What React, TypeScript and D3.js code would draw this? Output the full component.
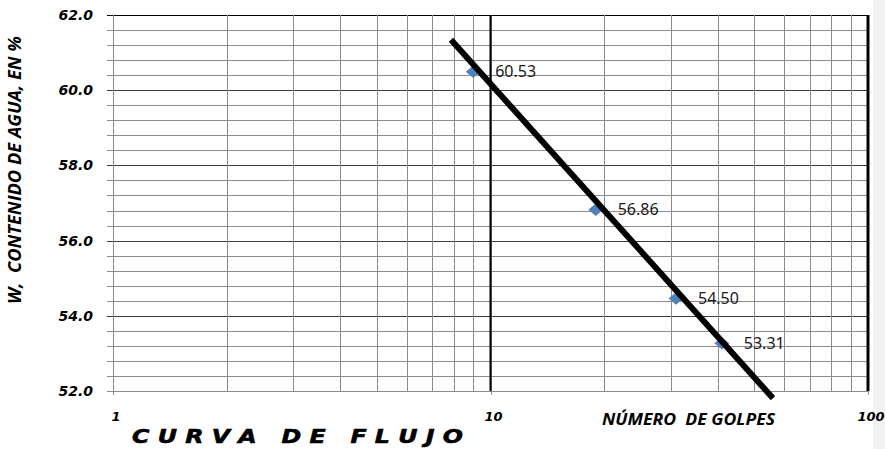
import { useEffect, useRef } from "react";
import * as d3 from "d3";

// blows (golpes) vs water content
const blows = [9, 19, 31, 41];
const moisture = [60.53, 56.86, 54.5, 53.31];
const yTickValues = [62, 60, 58, 56, 54, 52];
const xTickValues = [1, 10, 100];
// flow curve drawn by hand across the points: [golpes, w%] at each end
const flowLineBlows = [7.86, 56.0];
const flowLineMoisture = [61.34, 51.81];

const W = 885;
const H = 449;

export default function App() {
    const svgRef = useRef<SVGSVGElement>(null);

    useEffect(() => {
        if (!svgRef.current) return;
        const svg = d3.select(svgRef.current);
        svg.selectAll("*").remove();

        const margin = { top: 15, right: 17, bottom: 58, left: 113 };
        const x = d3.scaleLog().domain([1, 100]).range([margin.left, W - margin.right]);
        const y = d3.scaleLinear().domain([52, 62]).range([H - margin.bottom, margin.top]);
        const px = (v: number) => Math.round(x(v)) + 0.5;
        const py = (v: number) => Math.round(y(v)) + 0.5;

        svg.append("rect").attr("width", W).attr("height", H).attr("fill", "#fff");
        svg.append("rect").attr("x", 873).attr("width", W - 873).attr("height", H).attr("fill", "#f2f2f2");

        const grid = svg.append("g");
        const minor = d3.range(52, 62.001, 0.4);

        // horizontal grid + left ticks
        grid.selectAll("line.h")
            .data(minor)
            .enter()
            .append("line")
            .attr("x1", x(1) - 6)
            .attr("x2", x(100))
            .attr("y1", (d) => py(d))
            .attr("y2", (d) => py(d))
            .attr("stroke", (d) => {
                const r = Math.round(d * 10) / 10;
                if (r === 62) return "#000";
                if (r === 52) return "#8c8c8c";
                return Math.abs(r % 2) < 0.01 ? "#3a3a3a" : "#8c8c8c";
            })
            .attr("stroke-width", 1);

        // vertical grid
        grid.selectAll("line.v")
            .data(x.ticks())
            .enter()
            .append("line")
            .attr("x1", (d) => px(d))
            .attr("x2", (d) => px(d))
            .attr("y1", y(62))
            .attr("y2", (d) => (xTickValues.includes(d) ? y(52) + 4 : y(52)))
            .attr("stroke", "#8c8c8c")
            .attr("stroke-width", 1);

        grid.append("line")
            .attr("x1", x(10)).attr("x2", x(10))
            .attr("y1", y(62)).attr("y2", y(52))
            .attr("stroke", "#000").attr("stroke-width", 2);
        grid.append("line")
            .attr("x1", x(100)).attr("x2", x(100))
            .attr("y1", y(62)).attr("y2", y(52))
            .attr("stroke", "#000").attr("stroke-width", 3);

        // y tick labels
        svg.append("g")
            .selectAll("text")
            .data(yTickValues)
            .enter()
            .append("text")
            .attr("x", 93)
            .attr("y", (d) => y(d) + 5)
            .attr("text-anchor", "end")
            .attr("font-family", "DejaVu Sans")
            .attr("font-weight", "bold")
            .attr("font-style", "italic")
            .attr("font-size", 14)
            .text((d) => d.toFixed(1));

        // x tick labels
        svg.append("g")
            .selectAll("text")
            .data(xTickValues)
            .enter()
            .append("text")
            .attr("x", (d) => x(d) + 3)
            .attr("y", 421)
            .attr("text-anchor", "middle")
            .attr("font-family", "DejaVu Sans")
            .attr("font-weight", "bold")
            .attr("font-style", "italic")
            .attr("font-size", 13)
            .text((d) => String(d));

        const pts = blows.map((b, i) => ({ b, w: moisture[i] }));

        // markers
        svg.append("g")
            .selectAll("path")
            .data(pts)
            .enter()
            .append("path")
            .attr("d", d3.symbol(d3.symbolSquare, 110)())
            .attr("transform", (d) => `translate(${x(d.b)},${y(d.w) + 1.5}) scale(1,0.85) rotate(45)`)
            .attr("fill", "#4f81bd");

        // flow curve
        svg.append("path")
            .datum(flowLineBlows.map((b, i) => [b, flowLineMoisture[i]] as [number, number]))
            .attr(
                "d",
                d3.line<[number, number]>()
                    .x((d) => x(d[0]))
                    .y((d) => y(d[1]))
            )
            .attr("stroke", "#000")
            .attr("stroke-width", 6)
            .attr("fill", "none");

        // data labels
        svg.append("g")
            .selectAll("text")
            .data(pts)
            .enter()
            .append("text")
            .attr("x", (d) => x(d.b) + 22)
            .attr("y", (d) => y(d.w) + 7)
            .attr("font-family", "Noto Sans")
            .attr("font-size", 16)
            .attr("fill", "#1a1a1a")
            .text((d) => d.w.toFixed(2));

        // titles
        svg.append("text")
            .attr("transform", "translate(21,170) rotate(-90)")
            .attr("text-anchor", "middle")
            .attr("font-family", "Open Sans")
            .attr("font-weight", "bold")
            .attr("font-style", "italic")
            .attr("font-size", 17)
            .attr("textLength", 268)
            .attr("lengthAdjust", "spacingAndGlyphs")
            .style("white-space", "pre")
            .text("W,  CONTENIDO DE AGUA, EN %");

        svg.append("text")
            .attr("x", 602)
            .attr("y", 425)
            .attr("font-family", "Open Sans")
            .attr("font-weight", "bold")
            .attr("font-style", "italic")
            .attr("font-size", 16)
            .attr("textLength", 173)
            .attr("lengthAdjust", "spacingAndGlyphs")
            .style("white-space", "pre")
            .text("NÚMERO  DE GOLPES");

        svg.append("text")
            .attr("x", 132)
            .attr("y", 443)
            .attr("font-family", "DejaVu Sans")
            .attr("font-weight", "900")
            .attr("font-style", "italic")
            .attr("font-size", 19)
            .attr("stroke", "#000")
            .attr("stroke-width", 0.6)
            .attr("textLength", 331)
            .attr("lengthAdjust", "spacingAndGlyphs")
            .style("white-space", "pre")
            .text("C U R V A   D E   F L U J O");
    }, []);

    return (
        <svg
            ref={svgRef}
            width={W}
            height={H}
            style={{ position: "absolute", left: 0, top: 0 }}
        />
    );
}
